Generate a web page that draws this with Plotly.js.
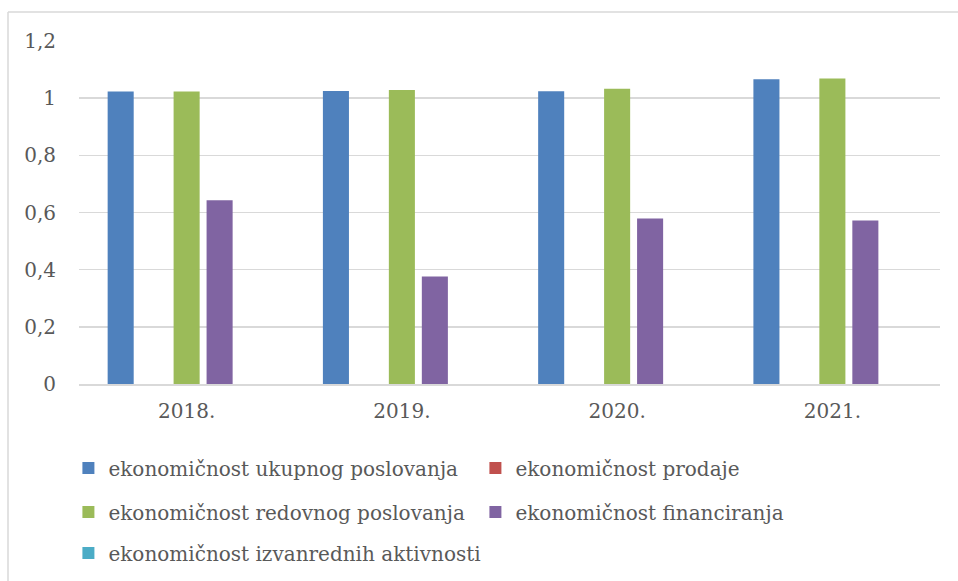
<!DOCTYPE html>
<html>
<head>
<meta charset="utf-8">
<script src="https://cdn.plot.ly/plotly-3.0.1.min.js"></script>
<style>html,body{margin:0;padding:0;background:#fff;}#chart{width:958px;height:581px;}</style>
</head>
<body>
<div id="chart"></div>
<script>
const years = ["2018.", "2019.", "2020.", "2021."];
const seriesNames = [
  "ekonomičnost ukupnog poslovanja",
  "ekonomičnost prodaje",
  "ekonomičnost redovnog poslovanja",
  "ekonomičnost financiranja",
  "ekonomičnost izvanrednih aktivnosti"
];
const ukupnog = [1.023, 1.025, 1.024, 1.066];
const prodaje = [0, 0, 0, 0];
const redovnog = [1.023, 1.029, 1.033, 1.069];
const financiranja = [0.643, 0.376, 0.579, 0.572];
const izvanrednih = [0, 0, 0, 0];
const yTicks = [0, 0.2, 0.4, 0.6, 0.8, 1, 1.2];
const yTickText = ["0", "0,2", "0,4", "0,6", "0,8", "1", "1,2"];

const colors = ["#4F81BD", "#C0504D", "#9BBB59", "#8064A2", "#4BACC6"];
const values = [ukupnog, prodaje, redovnog, financiranja, izvanrednih];
const legendIds = ["legend", "legend", "legend2", "legend2", "legend3"];

const FONT = "DejaVu Serif, Liberation Serif, serif";
const data = values.map((v, i) => ({
  type: "bar",
  x: years,
  y: v,
  name: seriesNames[i],
  legend: legendIds[i],
  marker: {color: colors[i], line: {width: 0}},
  hoverinfo: "x+y+name"
}));

const legendBase = {
  orientation: "h",
  xanchor: "left",
  yanchor: "middle",
  x: -0.0123,
  bgcolor: "rgba(0,0,0,0)",
  font: {family: FONT, size: 20, color: "#595959"},
  entrywidth: 362,
  entrywidthmode: "pixels",
  itemclick: false,
  itemdoubleclick: false
};

const layout = {
  width: 958,
  height: 581,
  margin: {l: 79, r: 18, t: 41, b: 197, pad: 0, autoexpand: false},
  paper_bgcolor: "#ffffff",
  plot_bgcolor: "#ffffff",
  font: {family: FONT, size: 20, color: "#595959"},
  barmode: "group",
  bargap: 0.234,
  bargroupgap: 0.21,
  showlegend: true,
  legend: Object.assign({}, legendBase, {y: -0.2449}),
  legend2: Object.assign({}, legendBase, {y: -0.3732}),
  legend3: Object.assign({}, legendBase, {y: -0.4927, entrywidth: 480}),
  xaxis: {
    type: "category",
    showgrid: false,
    showline: true,
    linecolor: "#d9d9d9",
    linewidth: 1.5,
    ticks: "",
    ticklabelstandoff: 8,
    tickfont: {family: FONT, size: 20, color: "#595959"},
    fixedrange: true
  },
  yaxis: {
    range: [0, 1.2],
    tickvals: yTicks,
    ticktext: yTickText,
    showgrid: true,
    gridcolor: "#d9d9d9",
    gridwidth: 1.5,
    zeroline: false,
    showline: false,
    ticks: "",
    ticklabelstandoff: 22,
    tickfont: {family: FONT, size: 20, color: "#595959"},
    fixedrange: true
  },
  shapes: [
    {type: "line", xref: "paper", yref: "paper",
     x0: (8 - 79) / 861, x1: (8 - 79) / 861, y0: (384 - 12) / 343, y1: (384 - 585) / 343,
     line: {color: "#d9d9d9", width: 1.5}},
    {type: "line", xref: "paper", yref: "paper",
     x0: (8 - 79) / 861, x1: (962 - 79) / 861, y0: (384 - 12) / 343, y1: (384 - 12) / 343,
     line: {color: "#d9d9d9", width: 1.5}}
  ]
};

Plotly.newPlot("chart", data, layout, {displayModeBar: false, staticPlot: true});
</script>
</body>
</html>
